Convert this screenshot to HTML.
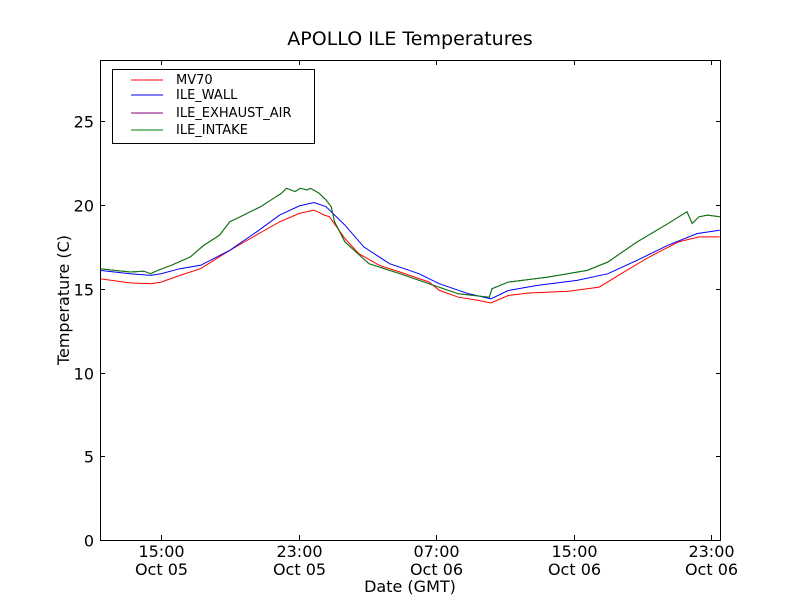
<!DOCTYPE html>
<html><head><meta charset="utf-8"><style>
body{margin:0;background:#fff;}
svg text{font-family:"DejaVu Sans","Liberation Sans",sans-serif;}
</style></head><body>
<svg id="chart" width="800" height="600">
<rect width="800" height="600" fill="#fff"/>
<text x="410" y="45" font-size="19" text-anchor="middle">APOLLO ILE Temperatures</text>
<text x="410" y="592" font-size="16" text-anchor="middle">Date (GMT)</text>
<text transform="translate(69,300) rotate(-90)" font-size="16" text-anchor="middle">Temperature (C)</text>
<g id="series"></g>
<g id="axes"></g>
<rect x="100.5" y="60.5" width="620" height="480" fill="none" stroke="#000"/>
<g>
<rect x="112.5" y="69.5" width="202" height="74" fill="#fff" stroke="#000"/>
<line x1="131" y1="80" x2="163" y2="80" stroke="#f00"/>
<text x="176" y="84" font-size="13">MV70</text>
<line x1="131" y1="95" x2="163" y2="95" stroke="#00f"/>
<text x="176" y="99" font-size="13">ILE_WALL</text>
<line x1="131" y1="113" x2="163" y2="113" stroke="#800080"/>
<text x="176" y="117" font-size="13">ILE_EXHAUST_AIR</text>
<line x1="131" y1="130" x2="163" y2="130" stroke="#008000"/>
<text x="176" y="134" font-size="13">ILE_INTAKE</text>
</g>
</svg>
<script>
// times in hours since Oct 05 00:00 GMT
const mvT=[11.45,13.2,14.4,15,16.1,17.3,19,20.7,21.9,23.05,23.9,24.5,24.8,25.7,26.5,27.7,28.9,30.6,31.2,32.3,33.5,34.2,35.2,36.4,38.7,40.5,41.6,43.4,45.1,46.3,47.5];
const mvV=[15.6,15.35,15.3,15.4,15.8,16.2,17.3,18.3,19.0,19.5,19.7,19.4,19.3,18.0,17.1,16.4,16.0,15.4,14.9,14.5,14.3,14.15,14.6,14.75,14.85,15.1,15.8,16.9,17.8,18.1,18.1];
const wallT=[11.45,13.2,14.4,15,16.1,17.3,19,20.7,21.9,23.05,23.9,24.6,25.7,26.8,28.3,30,31.2,32.9,34.2,35.2,36.9,39.2,41,42.7,44.5,46.2,47.5];
const wallV=[16.1,15.9,15.8,15.9,16.2,16.4,17.3,18.5,19.4,19.95,20.15,19.9,18.8,17.5,16.5,15.9,15.3,14.7,14.4,14.9,15.2,15.5,15.9,16.7,17.6,18.3,18.5];
const inT=[11.45,12.3,13.2,14,14.4,14.8,15.6,16.7,17.5,18.4,19,19.6,20.2,20.8,21.4,22,22.3,22.8,23.1,23.5,23.7,24.2,24.6,24.9,25.1,25.7,27.1,28.9,30.6,32.3,34.1,34.25,35.2,37.5,39.8,41,42.7,44.5,45.6,45.9,46.3,46.8,47.5];
const inV=[16.2,16.1,16.0,16.05,15.9,16.1,16.4,16.9,17.6,18.2,19.0,19.3,19.6,19.9,20.3,20.7,21.0,20.8,21.0,20.9,21.0,20.7,20.3,19.9,19.0,17.8,16.5,15.9,15.3,14.7,14.5,15.0,15.4,15.7,16.1,16.6,17.8,18.9,19.6,18.9,19.3,19.4,19.3];
const exT=inT.slice();
const exV=inV.slice();
const yTicks=[0,5,10,15,20,25];
const xTicks=[15,23,31,39,47];
const xTickTimes=["15:00","23:00","07:00","15:00","23:00"];
const xTickDates=["Oct 05","Oct 05","Oct 06","Oct 06","Oct 06"];

const t0=11.45,t1=47.52,ymax=28.66;
const X=t=>100+(t-t0)/(t1-t0)*620;
const Y=v=>540-v/ymax*480;
const NS="http://www.w3.org/2000/svg";
const sg=document.getElementById('series'),ag=document.getElementById('axes');
function line(ts,vs,color,name){
  const p=document.createElementNS(NS,'polyline');
  p.setAttribute('points',ts.map((t,i)=>X(t).toFixed(1)+','+Y(vs[i]).toFixed(1)).join(' '));
  p.setAttribute('fill','none');p.setAttribute('stroke',color);p.setAttribute('stroke-width','1');
  
  
  sg.appendChild(p);
}
line(mvT,mvV,'#f00','mv70-line');
line(wallT,wallV,'#00f','ile-wall-line');
line(exT,exV,'#800080','ile-exhaust-air-line');
line(inT,inV,'#008000','ile-intake-line');
function el(tag,attrs,txt){const e=document.createElementNS(NS,tag);for(const k in attrs)e.setAttribute(k,attrs[k]);if(txt!==undefined)e.textContent=txt;ag.appendChild(e);return e;}
yTicks.forEach(v=>{
  const y=Math.round(Y(v))+0.5;
  el('line',{x1:100,x2:105,y1:y,y2:y,stroke:'#000'});
  el('line',{x1:716,x2:721,y1:y,y2:y,stroke:'#000'});
  const t=el('text',{x:94,y:y+6,'font-size':16,'text-anchor':'end'},String(v));
  
  
});
xTicks.forEach((h,i)=>{
  const x=Math.round(X(h))+0.5;
  el('line',{x1:x,x2:x,y1:540,y2:535,stroke:'#000'});
  el('line',{x1:x,x2:x,y1:60,y2:65,stroke:'#000'});
  const a=el('text',{x:x,y:557,'font-size':16,'text-anchor':'middle'},xTickTimes[i]);
  
  
  const b=el('text',{x:x,y:575,'font-size':16,'text-anchor':'middle'},xTickDates[i]);
  
  
});
</script>
</body></html>
